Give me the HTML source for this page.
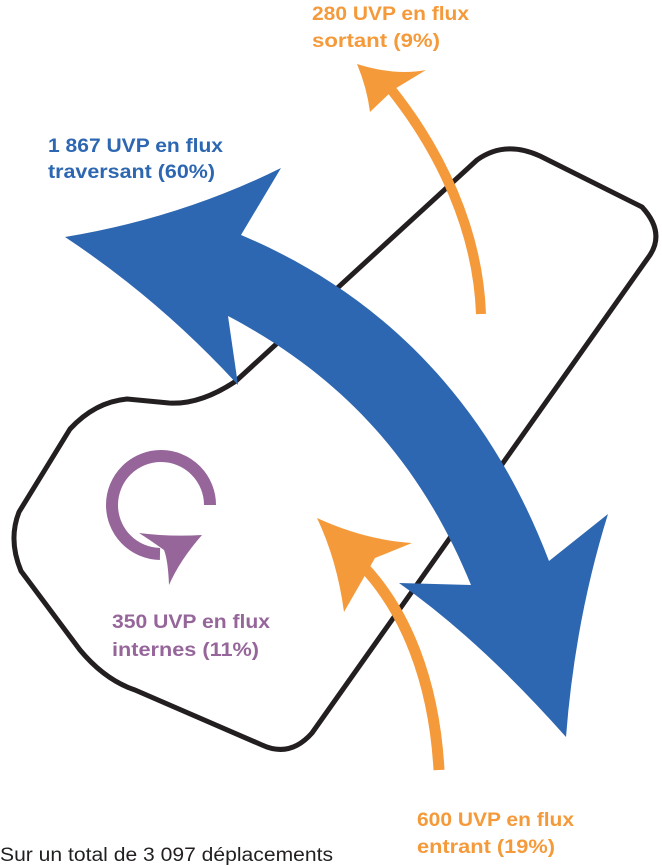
<!DOCTYPE html>
<html><head><meta charset="utf-8"><style>
html,body{margin:0;padding:0;background:#fff;}
svg{display:block}
text{font-family:"Liberation Sans",sans-serif;}
</style></head><body>
<svg width="662" height="866" viewBox="0 0 662 866">
<path d="M477,160 L236,381 Q200,405 169,403 L127,399 Q95,402 70,429 L19,512 Q8,540 21,571 L80,650 Q105,680 135,690 L262,745 Q290,758 312,733 L650,255 Q665,232 642,207 L540,156 Q505,140 477,160 Z" fill="none" stroke="#231f20" stroke-width="5" stroke-linejoin="round"/>
<path d="M481,314 C478,230 440,150 390,88" fill="none" stroke="#f59a3a" stroke-width="10"/>
<path d="M357,64 Q395,76 426,70 L393,90 L370,112 Q367,88 357,64 Z" fill="#f59a3a"/>
<path d="M439,770 C434,680 405,610 362,565" fill="none" stroke="#f59a3a" stroke-width="11"/>
<path d="M317,518 Q365,540 412,543 L375,558 L344,612 Q337,560 317,518 Z" fill="#f59a3a"/>
<path d="M65,237 Q180,218 281,168 L241,235 C360,285 480,380 549,561 L608,514 Q575,620 566,737 Q480,640 399,583 L471,585 C420,460 340,375 228,316 L238,385 Q160,300 65,237 Z" fill="#2e67b1"/>
<path d="M210,505 A49,49 0 1 0 160,554" fill="none" stroke="#96669b" stroke-width="12"/>
<path d="M139,533 Q170,537 202,535 Q180,560 169,585 Q168,560 164,550 Q150,540 139,533 Z" fill="#96669b"/>
<g font-weight="bold" font-size="19">
<text x="312" y="20" fill="#f59a3a" textLength="157" lengthAdjust="spacingAndGlyphs">280 UVP en flux</text>
<text x="312" y="47" fill="#f59a3a" textLength="128" lengthAdjust="spacingAndGlyphs">sortant (9%)</text>
<text x="48" y="152" fill="#2e67b1" textLength="175" lengthAdjust="spacingAndGlyphs">1 867 UVP en flux</text>
<text x="48" y="178" fill="#2e67b1" textLength="167" lengthAdjust="spacingAndGlyphs">traversant (60%)</text>
<text x="112" y="628" fill="#96669b" textLength="158" lengthAdjust="spacingAndGlyphs">350 UVP en flux</text>
<text x="112" y="656" fill="#96669b" textLength="147" lengthAdjust="spacingAndGlyphs">internes (11%)</text>
<text x="417" y="826" fill="#f59a3a" textLength="157" lengthAdjust="spacingAndGlyphs">600 UVP en flux</text>
<text x="417" y="853" fill="#f59a3a" textLength="138" lengthAdjust="spacingAndGlyphs">entrant (19%)</text>
</g>
<text x="0" y="861" font-size="19" fill="#231f20" textLength="333" lengthAdjust="spacingAndGlyphs">Sur un total de 3 097 déplacements</text>
</svg>
</body></html>
